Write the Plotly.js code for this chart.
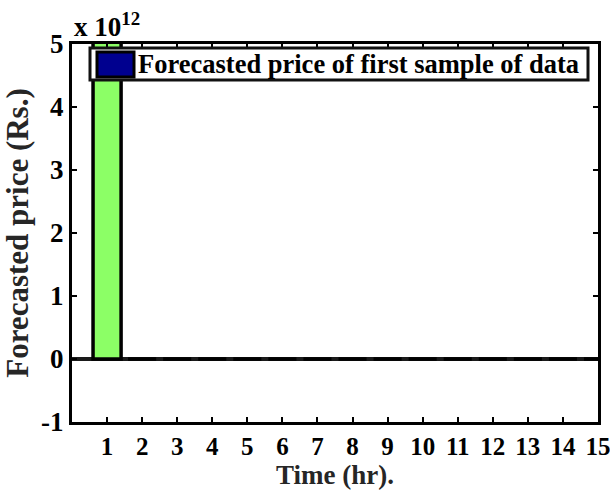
<!DOCTYPE html>
<html>
<head>
<meta charset="utf-8">
<script src="https://cdn.plot.ly/plotly-3.0.1.min.js"></script>
<style>html,body{margin:0;padding:0;background:#fff;}#chart{width:610px;height:490px;}</style>
</head>
<body>
<div id="chart"></div>
<script>
// Data
var hours = [1, 2, 3, 4, 5, 6, 7, 8, 9, 10, 11, 12, 13, 14, 15];
var forecastPrice = [6.2e12, 0, 0, 0, 0, 0, 0, 0, 0, 0, 0, 0, 0, 0, 0];
var xTickLabels = ['1','2','3','4','5','6','7','8','9','10','11','12','13','14','15'];
var yTickVals = [-1e12, 0, 1e12, 2e12, 3e12, 4e12, 5e12];
var yTickLabels = ['-1','0','1','2','3','4','5'];
var legendLabel = 'Forecasted price of first sample of data';

var FONT = 'Liberation Serif, Times New Roman, serif';

var traces = [{
  type: 'bar',
  x: hours,
  y: forecastPrice,
  width: 0.8,
  marker: {color: '#8cff66', line: {color: '#000', width: 3.5}},
  showlegend: false,
  hoverinfo: 'skip'
}];

var layout = {
  width: 610, height: 490,
  margin: {l: 72, r: 12, t: 44, b: 68},
  paper_bgcolor: '#fff', plot_bgcolor: '#fff',
  font: {family: FONT, color: '#000'},
  showlegend: false,
  xaxis: {
    range: [0, 15],
    tickvals: hours, ticktext: xTickLabels,
    ticks: 'inside', ticklen: 5, tickwidth: 2, tickcolor: '#000',
    showline: true, linewidth: 3, linecolor: '#000', mirror: 'ticks',
    showgrid: false, zeroline: false,
    tickfont: {family: FONT, size: 25, color: '#000', weight: 'bold'},
    ticklabelstandoff: 0,
    ticklabeloverflow: 'allow',
    title: {text: '<b>Time (hr).</b>', font: {family: FONT, size: 27, color: '#262626'}, standoff: 6}
  },
  yaxis: {
    range: [-1e12, 5e12],
    tickvals: yTickVals, ticktext: yTickLabels,
    ticks: 'inside', ticklen: 5, tickwidth: 2, tickcolor: '#000',
    showline: true, linewidth: 3, linecolor: '#000', mirror: 'ticks',
    showgrid: false,
    zeroline: true, zerolinecolor: '#1a1a1a', zerolinewidth: 4,
    tickfont: {family: FONT, size: 27, color: '#000', weight: 'bold'},
    ticklabelstandoff: 0,
    title: {text: '<b>Forecasted price (Rs.)</b>', font: {family: FONT, size: 31, color: '#262626'}, standoff: 4}
  },
  shapes: [
    {type: 'rect', xref: 'paper', yref: 'paper',
     x0: (90-72)/526, x1: (588-72)/526, y0: 1-(80-44)/378, y1: 1-(48-44)/378,
     fillcolor: '#fff', line: {color: '#111', width: 3}, layer: 'above'},
    {type: 'rect', xref: 'paper', yref: 'paper',
     x0: (97-72)/526, x1: (134-72)/526, y0: 1-(77-44)/378, y1: 1-(52-44)/378,
     fillcolor: '#00008f', line: {color: '#000', width: 3}, layer: 'above'}
  ],
  annotations: [
    {xref: 'paper', yref: 'paper', x: (136-72)/526, y: 1-(64-44)/378,
     xanchor: 'left', yanchor: 'middle', showarrow: false,
     text: '<b>' + legendLabel + '</b>',
     font: {family: FONT, size: 26.5, color: '#000'}},
    {xref: 'paper', yref: 'paper', x: (72-72)/526, y: 1,
     xanchor: 'left', yanchor: 'bottom', showarrow: false, yshift: 0,
     text: '<b>x 10<sup>12</sup></b>',
     font: {family: FONT, size: 27, color: '#000'}}
  ]
};

Plotly.newPlot('chart', traces, layout, {displayModeBar: false, staticPlot: true});
</script>
</body>
</html>
